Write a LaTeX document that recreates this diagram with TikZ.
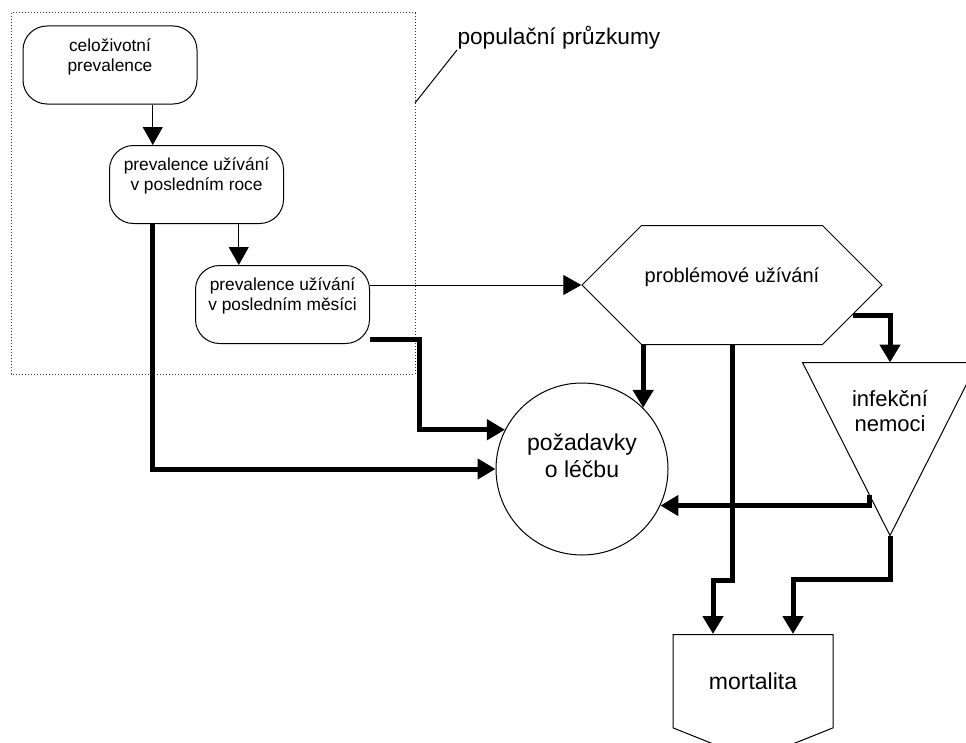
\documentclass[tikz,border=0pt]{standalone}
\usepackage{fontspec}
\setmainfont{Liberation Sans}
\usetikzlibrary{arrows.meta,calc,shapes.geometric,shapes.symbols}

\begin{document}
\begin{tikzpicture}[x=0.75pt,y=-0.75pt,line width=0.75pt,
    stav/.style={draw,rounded corners=18pt,minimum width=130.5pt,minimum height=58.5pt,
      inner sep=0pt,align=center,font=\fontsize{13}{15}\selectfont},
    velky/.style={font=\fontsize{17.25}{20.25}\selectfont},
    sipka/.style={-{Triangle[length=13.5pt,width=15pt]}},
    tok/.style={-{Triangle[length=13.5pt,width=15pt]},line width=3.75pt}]
  \useasboundingbox (0,0) rectangle (966,742);
  % populační průzkumy
  \draw[black!80,dash pattern=on 0.75pt off 1.5pt] (11,13) rectangle (415,374);
  \coordinate (oblast_okraj) at (415,103);
  \node[anchor=south west,inner sep=0pt,font=\fontsize{17}{20}\selectfont] (pruzkumy) at (457,50) {populační průzkumy};
  \draw (oblast_okraj) -- (pruzkumy.south west);
  % uzly
  \node[stav] (celozivotni) at (110,65) {celoživotní\\prevalence\\\mbox{}};
  \node[stav] (posledni_rok) at (196.5,184.5) {prevalence užívání\\v posledním roce\\\mbox{}};
  \node[stav] (posledni_mesic) at (282.5,304.5) {prevalence užívání\\v posledním měsíci\\\mbox{}};
  \node[draw,signal,signal to=east and west,minimum width=225pt,minimum height=89.25pt,
    inner sep=0pt,text depth=15pt,font=\fontsize{15}{18}\selectfont] (problemove) at (732,285) {problémové užívání};
  \node[draw,circle,velky,minimum size=129pt,inner sep=0pt,align=center] (pozadavky) at (582,469) {požadavky\\o léčbu\\\mbox{}};
  \node[minimum width=130.5pt,minimum height=129pt,inner sep=0pt,text width=130.5pt,align=center,
    text depth=76pt,font=\fontsize{16.5}{19}\selectfont] (infekce) at (890,449) {infekční\\nemoci};
  \draw (infekce.north west) -- (infekce.north east) -- (infekce.south) -- cycle;
  \node[draw,signal,signal to=south,signal pointer angle=136.4,velky,minimum width=120pt,
    minimum height=83.25pt,inner sep=0pt,anchor=north] (mortalita) at (753,634) {mortalita};
  % pomocné body
  \coordinate (rok_vstup) at ($(posledni_rok.north west)!0.25!(posledni_rok.north east)$);
  \coordinate (mesic_vstup) at ($(posledni_mesic.north west)!0.25!(posledni_mesic.north east)$);
  \coordinate (infekce_bok) at ($(infekce.south)!0.233!(infekce.north west)$);
  \coordinate (mortalita_l) at ($(mortalita.north)+(-40,0)$);
  \coordinate (mortalita_p) at ($(mortalita.north)+(40,0)$);
  % tenké šipky
  \draw[sipka] (celozivotni.south -| rok_vstup) -- (rok_vstup);
  \draw[sipka] (posledni_rok.south -| mesic_vstup) -- (mesic_vstup);
  \draw[sipka] (posledni_mesic.east |- problemove.west) -- (problemove.west);
  % silné šipky
  \draw[tok] (posledni_rok.south -| rok_vstup) |- (pozadavky.west);
  \draw[tok] (posledni_mesic.-22) -- ++(49,0) |- (pozadavky.153);
  \draw[tok] (pozadavky.north east |- problemove.south) -- (pozadavky.north east);
  \draw[tok] (problemove.-14) -| (infekce.north);
  \draw[tok] (infekce_bok) |- (pozadavky.-25);
  \draw[tok] (problemove.south) -- ++(0,235) -| (mortalita_l);
  \draw[tok] (infekce.south) -- ++(0,44) -| (mortalita_p);
\end{tikzpicture}
\end{document}
